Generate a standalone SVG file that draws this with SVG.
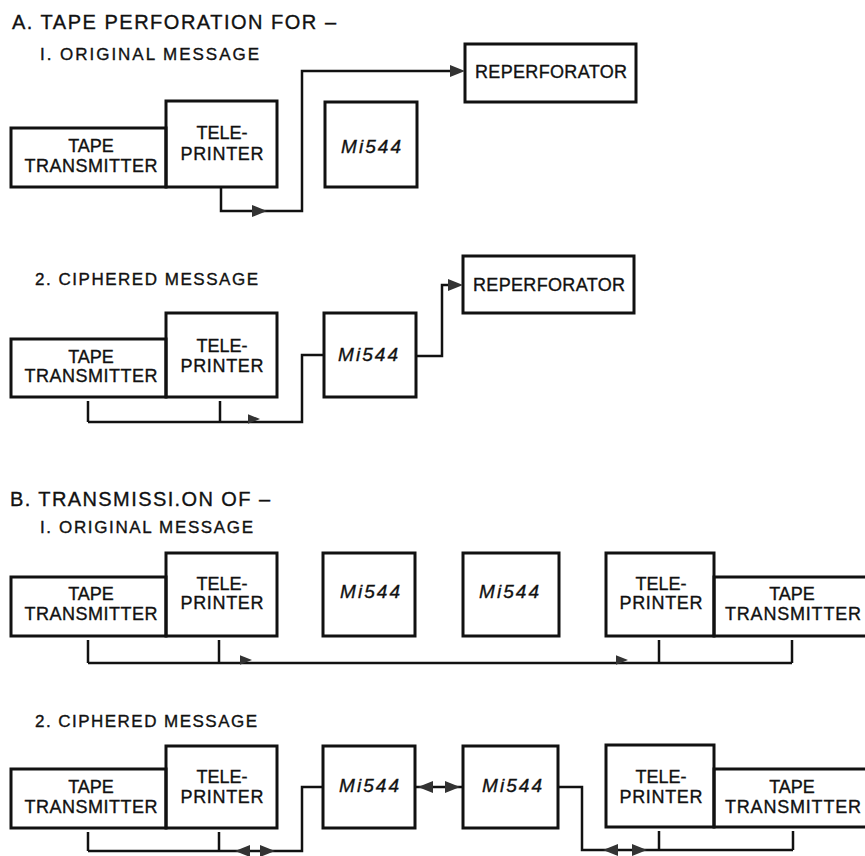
<svg xmlns="http://www.w3.org/2000/svg" xmlns:xlink="http://www.w3.org/1999/xlink" width="865" height="856" viewBox="0 0 865 856">
<style>
  .bg{fill:#ffffff}
  .box{fill:none;stroke:#111;stroke-width:3}
  .ln{fill:none;stroke:#111;stroke-width:2.5}
  .tk{fill:none;stroke:#111;stroke-width:2.5}
  .ah{fill:#333;stroke:none}
  text{font-family:"Liberation Sans",Arial,Helvetica,sans-serif;fill:#111;stroke:#111;stroke-width:0.35}
  .t1{font-size:20px}
  .t2{font-size:17px}
  .lbl{font-size:18px;text-anchor:middle}
  .mi{font-size:19px;font-style:italic;text-anchor:middle}
</style>
<defs>
  <path id="ah" d="M0,0 L-15,-6 L-15,6 Z"/>
</defs>
<rect class="bg" x="0" y="0" width="865" height="856"/>

<g id="titles">
  <text class="t1" x="12" y="29" textLength="324">A. TAPE PERFORATION FOR –</text>
  <text class="t2" x="40" y="60" textLength="219">I. ORIGINAL MESSAGE</text>
  <text class="t2" x="35" y="285" textLength="223">2. CIPHERED MESSAGE</text>
  <text class="t1" x="10" y="506" textLength="260">B. TRANSMISSI.ON OF –</text>
  <text class="t2" x="40" y="533" textLength="213">I. ORIGINAL MESSAGE</text>
  <text class="t2" x="35" y="727" textLength="222">2. CIPHERED MESSAGE</text>
</g>

<!-- A.1 -->
<g id="a1-tape">
  <rect class="box" x="11" y="128" width="155" height="59"/>
  <text class="lbl" x="91" y="152">TAPE</text>
  <text class="lbl" x="91" y="172" textLength="133">TRANSMITTER</text>
</g>
<g id="a1-tele">
  <rect class="box" x="166" y="101" width="111" height="86"/>
  <text class="lbl" x="222" y="139">TELE-</text>
  <text class="lbl" x="222" y="160" textLength="83">PRINTER</text>
</g>
<g id="a1-mi544">
  <rect class="box" x="325" y="102" width="92" height="85"/>
  <text class="mi" x="371" y="153" textLength="60">Mi544</text>
</g>
<g id="a1-reperf">
  <rect class="box" x="465" y="44" width="171" height="58"/>
  <text class="lbl" x="551" y="78" textLength="152">REPERFORATOR</text>
</g>

<!-- A.2 -->
<g id="a2-tape">
  <rect class="box" x="11" y="339" width="155" height="58"/>
  <text class="lbl" x="91" y="363">TAPE</text>
  <text class="lbl" x="91" y="382" textLength="133">TRANSMITTER</text>
</g>
<g id="a2-tele">
  <rect class="box" x="166" y="313" width="111" height="84"/>
  <text class="lbl" x="222" y="352">TELE-</text>
  <text class="lbl" x="222" y="372" textLength="83">PRINTER</text>
</g>
<g id="a2-mi544">
  <rect class="box" x="324" y="313" width="92" height="84"/>
  <text class="mi" x="368" y="361" textLength="60">Mi544</text>
</g>
<g id="a2-reperf">
  <rect class="box" x="463" y="256" width="171" height="57"/>
  <text class="lbl" x="549" y="291" textLength="152">REPERFORATOR</text>
</g>

<!-- B.1 -->
<g id="b1-tape-l">
  <rect class="box" x="11" y="577" width="155" height="59"/>
  <text class="lbl" x="91" y="600">TAPE</text>
  <text class="lbl" x="91" y="620" textLength="133">TRANSMITTER</text>
</g>
<g id="b1-tele-l">
  <rect class="box" x="166" y="553" width="111" height="83"/>
  <text class="lbl" x="222" y="590">TELE-</text>
  <text class="lbl" x="222" y="609" textLength="83">PRINTER</text>
</g>
<g id="b1-mi544-1">
  <rect class="box" x="323" y="553" width="92" height="83"/>
  <text class="mi" x="370" y="598" textLength="60">Mi544</text>
</g>
<g id="b1-mi544-2">
  <rect class="box" x="463" y="553" width="96" height="83"/>
  <text class="mi" x="509" y="598" textLength="60">Mi544</text>
</g>
<g id="b1-tele-r">
  <rect class="box" x="606" y="553" width="108" height="83"/>
  <text class="lbl" x="661" y="590">TELE-</text>
  <text class="lbl" x="661" y="609" textLength="83">PRINTER</text>
</g>
<g id="b1-tape-r">
  <rect class="box" x="714" y="577" width="154" height="59"/>
  <text class="lbl" x="792" y="600">TAPE</text>
  <text class="lbl" x="793" y="620" textLength="136">TRANSMITTER</text>
</g>

<!-- B.2 -->
<g id="b2-tape-l">
  <rect class="box" x="11" y="769" width="155" height="59"/>
  <text class="lbl" x="91" y="793">TAPE</text>
  <text class="lbl" x="91" y="813" textLength="133">TRANSMITTER</text>
</g>
<g id="b2-tele-l">
  <rect class="box" x="166" y="746" width="111" height="82"/>
  <text class="lbl" x="222" y="783">TELE-</text>
  <text class="lbl" x="222" y="803" textLength="83">PRINTER</text>
</g>
<g id="b2-mi544-1">
  <rect class="box" x="323" y="746" width="92" height="82"/>
  <text class="mi" x="369" y="792" textLength="60">Mi544</text>
</g>
<g id="b2-mi544-2">
  <rect class="box" x="463" y="746" width="95" height="82"/>
  <text class="mi" x="512" y="792" textLength="60">Mi544</text>
</g>
<g id="b2-tele-r">
  <rect class="box" x="606" y="745" width="108" height="82"/>
  <text class="lbl" x="661" y="783">TELE-</text>
  <text class="lbl" x="661" y="803" textLength="83">PRINTER</text>
</g>
<g id="b2-tape-r">
  <rect class="box" x="714" y="769" width="154" height="58"/>
  <text class="lbl" x="792" y="793">TAPE</text>
  <text class="lbl" x="793" y="813" textLength="136">TRANSMITTER</text>
</g>

<g id="connectors">
  <!-- A.1 -->
  <path class="ln" d="M221,187 V211 H302 V71 H452"/>
  <use xlink:href="#ah" class="ah" transform="translate(267,211)"/>
  <use xlink:href="#ah" class="ah" transform="translate(465,71)"/>
  <!-- A.2 -->
  <path class="tk" d="M88,401 V422 M220,401 V422"/>
  <path class="ln" d="M88,422 H302 V355 H324"/>
  <use xlink:href="#ah" class="ah" transform="translate(260,419) scale(0.8)"/>
  <path class="ln" d="M416,356 H442 V285 H452"/>
  <use xlink:href="#ah" class="ah" transform="translate(463,285)"/>
  <!-- B.1 -->
  <path class="tk" d="M88,640 V663 M219,640 V663 M659,640 V663 M792,640 V663"/>
  <path class="ln" d="M88,663 H792"/>
  <use xlink:href="#ah" class="ah" transform="translate(252,660) scale(0.8)"/>
  <use xlink:href="#ah" class="ah" transform="translate(628,660) scale(0.8)"/>
  <!-- B.2 -->
  <path class="tk" d="M88,832 V851 M219,832 V851 M659,831 V850 M793,831 V850"/>
  <path class="ln" d="M88,851 H302 V787 H323"/>
  <use xlink:href="#ah" class="ah" transform="translate(235,851) rotate(180)"/>
  <use xlink:href="#ah" class="ah" transform="translate(275,851)"/>
  <path class="ln" d="M415,787 H463"/>
  <use xlink:href="#ah" class="ah" transform="translate(418,787) rotate(180)"/>
  <use xlink:href="#ah" class="ah" transform="translate(460,787)"/>
  <path class="ln" d="M558,787 H582 V850 H793"/>
  <use xlink:href="#ah" class="ah" transform="translate(603,850) rotate(180)"/>
  <use xlink:href="#ah" class="ah" transform="translate(647,850)"/>
</g>
</svg>
